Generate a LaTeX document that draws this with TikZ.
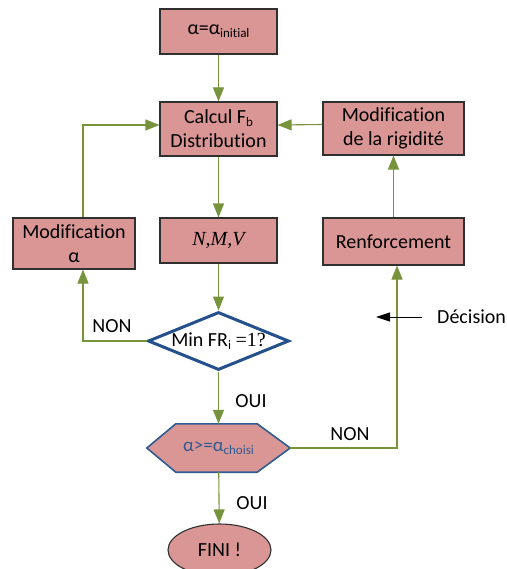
\documentclass[tikz,border=0pt]{standalone}
\usepackage{fontspec}
\setmainfont{Carlito}[Ligatures=NoCommon]
\newfontfamily\tms{Liberation Serif}
\usetikzlibrary{arrows.meta,shapes.geometric,backgrounds}
\definecolor{boxpink}{HTML}{D99694}
\definecolor{boxline}{HTML}{303030}
\definecolor{flowgreen}{HTML}{77933C}
\definecolor{diamblue}{HTML}{24508C}
\definecolor{hexblue}{HTML}{2F5B92}
\newcommand\mainsz{\fontsize{20}{24}\selectfont}
\newcommand\lowtxt[1]{\raisebox{-0.3ex}{\fontsize{13}{14}\selectfont #1}}
\tikzset{
  box/.style={draw=boxline, line width=1.1pt, fill=boxpink, inner sep=0pt, align=center, font=\mainsz},
  flow/.style={draw=flowgreen, line width=1.1pt, -{Triangle[length=14pt,width=11pt]}},
  lbl/.style={font=\mainsz, inner sep=0pt}
}
\begin{document}
\begin{tikzpicture}[x=1pt,y=-1pt]
\useasboundingbox (0,0) rectangle (506,569);
% nodes
\node[box, minimum width=117pt, minimum height=45pt] (init) at (218.5,31.5) {α=α\lowtxt{initial}};
\node[box, minimum width=117pt, minimum height=54pt] (calc) at (218.5,129) {Calcul F\lowtxt{b}\\Distribution};
\node[box, minimum width=117pt, minimum height=45pt] (nmv) at (218.5,240.5) {\tms\itshape N,M,V};
\node[box, minimum width=122pt, minimum height=51pt] (moda) at (74,243.5) {Modification\\α};
\node[box, minimum width=141pt, minimum height=53pt] (modr) at (393.5,128.5) {Modification\\de la rigidité};
\node[box, minimum width=141pt, minimum height=47pt] (renf) at (393.5,241.5) {Renforcement};
\node[diamond, draw=diamblue, line width=3pt, fill=white, aspect=2.43, minimum width=141pt, minimum height=58pt, inner sep=0pt, font=\mainsz] (dec) at (218.5,341) {Min FR\lowtxt{i} {\tms =1?}};
\node[minimum width=143pt, minimum height=48pt, inner sep=0pt, text=hexblue, font=\fontsize{19}{23}\selectfont] (hex) at (218.5,448) {α>=α\lowtxt{choisi}};
\begin{scope}[on background layer]
\filldraw[fill=boxpink, draw=hexblue, line width=1.6pt]
  (hex.west) -- ([xshift=29pt]hex.north west) -- ([xshift=-33pt]hex.north east)
  -- (hex.east) -- ([xshift=-33pt]hex.south east) -- ([xshift=29pt]hex.south west) -- cycle;
\end{scope}
\node[box, ellipse, minimum width=103pt, minimum height=52pt] (fin) at (219.5,550) {FINI !};
% labels
\node[lbl] (non1) at (112,326) {NON};
\node[lbl] (oui1) at (251,401) {OUI};
\node[lbl] (oui2) at (252,503) {OUI};
\node[lbl] (non2) at (350,434) {NON};
\node[lbl, anchor=west] (dtext) at (437,317) {Décision};
\coordinate (dtip) at (376,317);
% connectors
\draw[flow] (init) -- (calc);
\draw[flow] (calc) -- (nmv);
\draw[flow] (nmv) -- (dec);
\draw[flow] (dec) -- (hex);
\draw[flow] (hex) -- (fin);
\draw[flow] (dec.west) -| ([xshift=9pt]moda.south);
\draw[flow] ([xshift=9pt]moda.north) |- ([yshift=4pt]calc.west);
\draw[flow] (hex.east) -| ([xshift=3.5pt]renf.south);
\draw[flow] (renf) -- (modr);
\draw[flow] ([yshift=4pt]modr.west) -- ([yshift=4pt]calc.east);
\draw[black, line width=1pt, -{Triangle[length=14pt,width=9pt]}] ([xshift=-15pt]dtext.west) -- (dtip);
\end{tikzpicture}
\end{document}
